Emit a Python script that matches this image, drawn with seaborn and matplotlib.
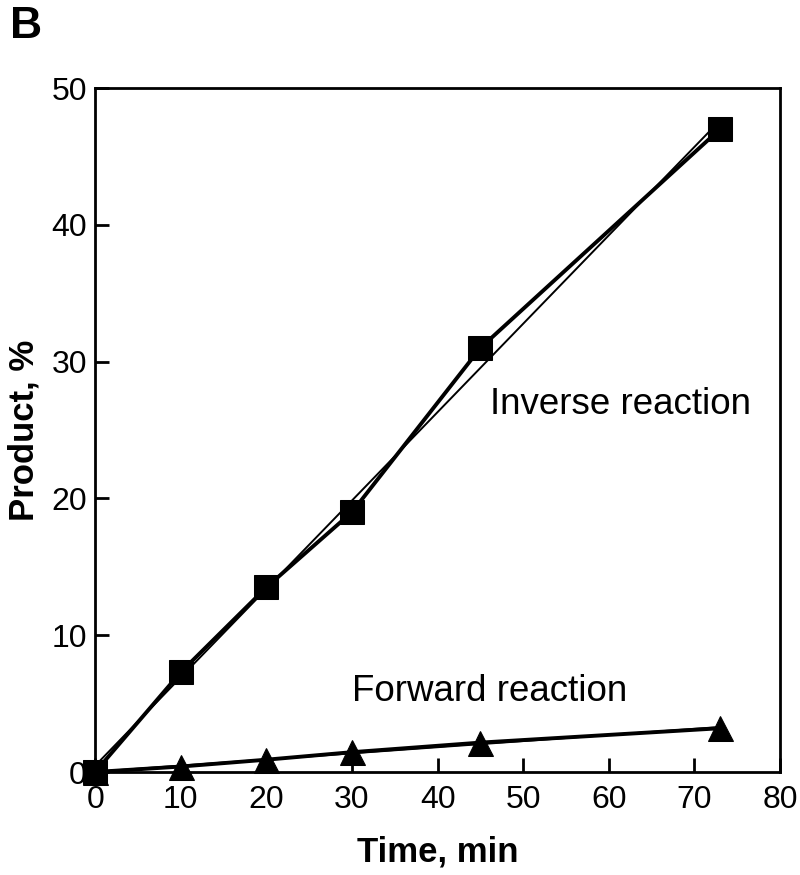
import numpy as np
import matplotlib.pyplot as plt
import seaborn as sns

# Data
inverse_time = [0, 10, 20, 30, 45, 73]
inverse_product = [0, 7.3, 13.5, 19.0, 31.0, 47.0]

forward_time = [0, 10, 20, 30, 45, 73]
forward_product = [0, 0.4, 0.9, 1.45, 2.15, 3.2]

x_ticks = [0, 10, 20, 30, 40, 50, 60, 70, 80]
y_ticks = [0, 10, 20, 30, 40, 50]

sns.set_style("ticks")
plt.rcParams['font.family'] = ['Liberation Sans', 'DejaVu Sans']
plt.rcParams['text.color'] = 'black'
plt.rcParams['axes.labelcolor'] = 'black'

fig = plt.figure(figsize=(8, 8.75), dpi=100)
ax = fig.add_axes([0.119, 0.1177, 0.856, 0.7817])

# connecting lines with markers
sns.lineplot(x=inverse_time, y=inverse_product, ax=ax, color='black', linewidth=2.8,
             marker='s', markersize=17, markeredgecolor='black', clip_on=False)
sns.lineplot(x=forward_time, y=forward_product, ax=ax, color='black', linewidth=2.8,
             marker='^', markersize=18, markeredgecolor='black', clip_on=False)

# thin linear fits
sns.regplot(x=inverse_time, y=inverse_product, ax=ax, scatter=False, ci=None,
            line_kws=dict(color='black', linewidth=1.4))
sns.regplot(x=forward_time, y=forward_product, ax=ax, scatter=False, ci=None,
            line_kws=dict(color='black', linewidth=1.4))

ax.set_xlim(0, 80)
ax.set_ylim(0, 50)
ax.set_xticks(x_ticks)
ax.set_yticks(y_ticks)
ax.tick_params(direction='in', length=10, width=2, labelsize=23, colors='black')
ax.tick_params(axis='x', pad=9)
ax.tick_params(axis='y', pad=6)

for side in ['top', 'right', 'bottom', 'left']:
    ax.spines[side].set_visible(True)
    ax.spines[side].set_linewidth(2)
    ax.spines[side].set_color('black')

ax.set_xlabel("Time, min", fontsize=25, fontweight='bold', labelpad=15)
ax.set_ylabel("Product, %", fontsize=25, fontweight='bold', labelpad=8)

ax.text(46.1, 26.9, "Inverse reaction", fontsize=26.5, va='center', ha='left')
ax.text(30.0, 5.85, "Forward reaction", fontsize=26.5, va='center', ha='left')

fig.text(0.012, 0.993, "B", fontsize=32, fontweight='bold', va='top', ha='left')

fig.savefig("out.png", dpi=100)
